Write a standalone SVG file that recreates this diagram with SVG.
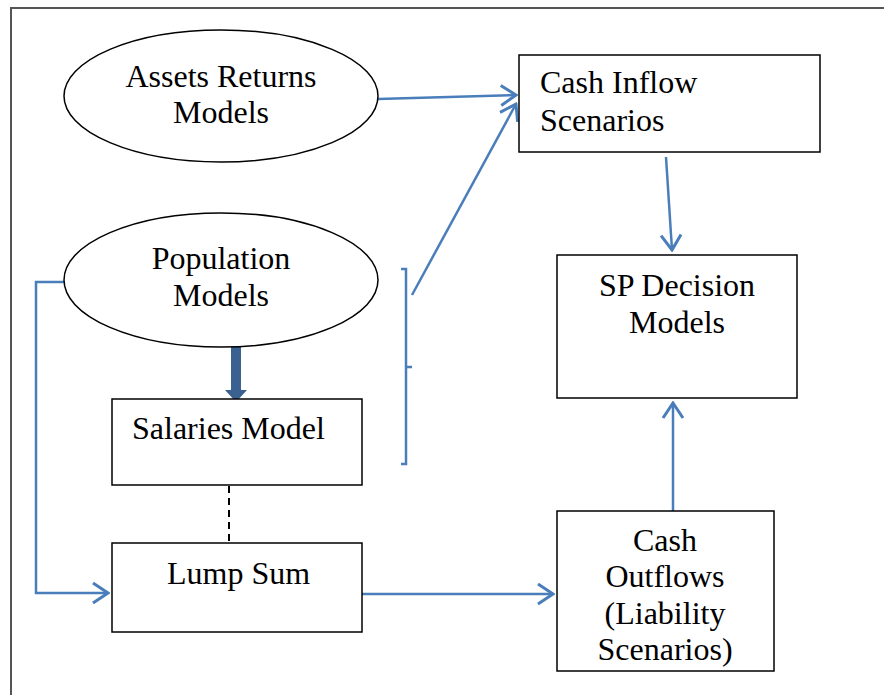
<svg xmlns="http://www.w3.org/2000/svg" width="884" height="695" viewBox="0 0 884 695">
<defs>
<style>
.node{fill:#fff;stroke:#000;stroke-width:1.5}
.t{font-family:"Liberation Serif","Times New Roman",serif;font-size:32px;fill:#000}
.m{text-anchor:middle}
.c{fill:none;stroke:#4a7ebb;stroke-width:2.5}
</style>
<marker id="ah" markerUnits="userSpaceOnUse" viewBox="0 0 20 24" refX="18" refY="12" markerWidth="20" markerHeight="24" orient="auto">
<path d="M3,2 L18,12 L3,22" fill="none" stroke="#4a7ebb" stroke-width="3"/>
</marker>
</defs>
<rect width="884" height="695" fill="#fff"/>
<path d="M11,695 V8 H884" fill="none" stroke="#555" stroke-width="2"/>
<g id="connectors">
<line class="c" x1="378" y1="99" x2="516" y2="95" marker-end="url(#ah)"/>
<path class="c" d="M401,269 H406 V464 H401 M406,367 H412" stroke-width="2"/>
<line class="c" x1="412" y1="295" x2="516" y2="104" marker-end="url(#ah)"/>
<line class="c" x1="666" y1="157" x2="672" y2="250" marker-end="url(#ah)"/>
<line class="c" x1="673" y1="511" x2="673" y2="403" marker-end="url(#ah)"/>
<line class="c" x1="362" y1="594" x2="553" y2="594" marker-end="url(#ah)"/>
<path class="c" d="M64,282 H36 V593 H108" stroke-width="2" marker-end="url(#ah)"/>
<path d="M231,346 H241 V390 H247 L236,402 L225,390 H231 Z" fill="#3a6190"/>
<line x1="229" y1="486" x2="229" y2="543" stroke="#000" stroke-width="2" stroke-dasharray="7,5"/>
</g>
<g id="assets">
<ellipse class="node" cx="221" cy="96" rx="157" ry="66"/>
<text class="t m" x="221" y="87">Assets Returns</text>
<text class="t m" x="221" y="123">Models</text>
</g>
<g id="population">
<ellipse class="node" cx="221" cy="280" rx="157" ry="67"/>
<text class="t m" x="221" y="269">Population</text>
<text class="t m" x="221" y="306">Models</text>
</g>
<g id="cashinflow">
<rect class="node" x="519" y="55" width="301" height="97"/>
<text class="t" x="540" y="93">Cash Inflow</text>
<text class="t" x="540" y="131">Scenarios</text>
</g>
<g id="spdecision">
<rect class="node" x="557" y="255" width="240" height="143"/>
<text class="t m" x="677" y="296">SP Decision</text>
<text class="t m" x="677" y="333">Models</text>
</g>
<g id="salaries">
<rect class="node" x="112" y="399" width="250" height="86"/>
<text class="t" x="132" y="439">Salaries Model</text>
</g>
<g id="lumpsum">
<rect class="node" x="112" y="543" width="250" height="89"/>
<text class="t" x="167" y="584">Lump Sum</text>
</g>
<g id="cashoutflows">
<rect class="node" x="557" y="511" width="217" height="160"/>
<text class="t m" x="665" y="551">Cash</text>
<text class="t m" x="665" y="587">Outflows</text>
<text class="t m" x="665" y="624">(Liability</text>
<text class="t m" x="665" y="660">Scenarios)</text>
</g>
</svg>
